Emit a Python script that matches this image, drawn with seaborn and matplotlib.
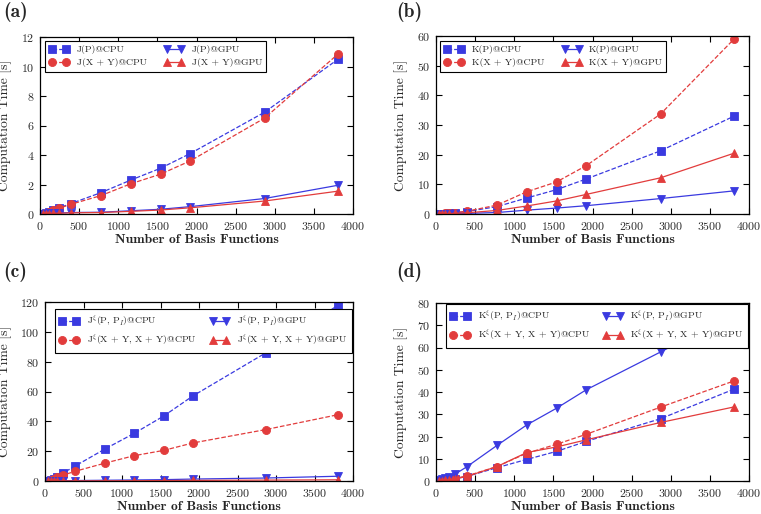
import matplotlib
matplotlib.use("Agg")
import matplotlib.pyplot as plt
import pandas as pd
import numpy as np
import seaborn as sns

# basis function counts (shared by all panels)
n_basis = [40, 80, 120, 160, 240, 390, 780, 1160, 1540, 1920, 2870, 3810]

# (a) Coulomb
a_jp_cpu = [0.03, 0.08, 0.15, 0.28, 0.40, 0.70, 1.45, 2.30, 3.10, 4.10, 6.90, 10.50]
a_jxy_cpu = [0.03, 0.07, 0.13, 0.25, 0.38, 0.65, 1.25, 2.05, 2.70, 3.60, 6.50, 10.85]
a_jp_gpu = [0.02, 0.03, 0.04, 0.05, 0.06, 0.10, 0.12, 0.22, 0.32, 0.50, 1.05, 1.95]
a_jxy_gpu = [0.01, 0.02, 0.03, 0.04, 0.05, 0.08, 0.10, 0.18, 0.27, 0.42, 0.88, 1.55]

# (b) exchange
b_kp_cpu = [0.05, 0.10, 0.15, 0.25, 0.40, 0.80, 2.50, 5.40, 8.20, 11.80, 21.30, 33.00]
b_kxy_cpu = [0.05, 0.12, 0.20, 0.30, 0.50, 0.90, 3.00, 7.50, 10.80, 16.30, 33.70, 59.00]
b_kp_gpu = [0.02, 0.04, 0.06, 0.08, 0.12, 0.20, 0.50, 1.30, 2.00, 2.80, 5.20, 7.80]
b_kxy_gpu = [0.03, 0.06, 0.10, 0.15, 0.20, 0.40, 1.20, 2.70, 4.40, 6.60, 12.20, 20.50]

# (c) Coulomb, xi
c_jp_cpu = [0.3, 0.8, 1.5, 3.0, 5.5, 10.0, 21.5, 32.0, 43.5, 57.0, 86.0, 118.0]
c_jxy_cpu = [0.2, 0.6, 1.2, 2.5, 4.0, 6.5, 12.0, 17.0, 20.5, 25.5, 34.5, 44.5]
c_jp_gpu = [0.05, 0.08, 0.1, 0.15, 0.2, 0.3, 0.5, 0.7, 0.9, 1.3, 2.0, 3.2]
c_jxy_gpu = [0.02, 0.03, 0.05, 0.07, 0.1, 0.1, 0.15, 0.2, 0.3, 0.4, 0.6, 0.8]

# (d) exchange, xi
d_kp_cpu = [0.1, 0.2, 0.4, 0.6, 1.0, 2.0, 6.0, 9.7, 13.3, 17.8, 28.0, 41.3]
d_kxy_cpu = [0.1, 0.3, 0.5, 0.8, 1.2, 2.2, 6.5, 12.5, 16.5, 21.0, 33.2, 45.0]
d_kp_gpu = [0.4, 0.8, 1.2, 1.8, 3.0, 6.3, 16.0, 25.2, 32.7, 41.0, 58.0, 75.0]
d_kxy_gpu = [0.1, 0.2, 0.4, 0.6, 1.0, 2.0, 6.5, 12.8, 15.3, 18.5, 26.3, 33.3]

blue = "#3a3ae0"
red = "#e23c3c"

sns.set_theme(style="ticks")
plt.rcParams["font.family"] = ["cmr10", "DejaVu Serif"]
plt.rcParams["mathtext.fontset"] = "cm"
plt.rcParams["axes.formatter.use_mathtext"] = True
plt.rcParams["axes.unicode_minus"] = False

fig = plt.figure(figsize=(7.61, 5.14), dpi=100)

panels = [
    dict(pos=[40 / 761, 300 / 514, 313 / 761, 177 / 514], tag="(a)", tag_xy=(3, 12),
         ylim=12, ystep=2, ylab_x=(12 - 40) / 313, leg_at=(0.016, 0.977), colsp=1.85,
         series=[("J(P)@CPU", a_jp_cpu, blue, "s", "--"),
                 ("J(X + Y)@CPU", a_jxy_cpu, red, "o", "--"),
                 ("J(P)@GPU", a_jp_gpu, blue, "v", "-"),
                 ("J(X + Y)@GPU", a_jxy_gpu, red, "^", "-")]),
    dict(pos=[436 / 761, 300 / 514, 313 / 761, 178 / 514], tag="(b)", tag_xy=(396, 12),
         ylim=60, ystep=10, ylab_x=(408 - 436) / 313, leg_at=(0.013, 0.972), colsp=1.85,
         series=[("K(P)@CPU", b_kp_cpu, blue, "s", "--"),
                 ("K(X + Y)@CPU", b_kxy_cpu, red, "o", "--"),
                 ("K(P)@GPU", b_kp_gpu, blue, "v", "-"),
                 ("K(X + Y)@GPU", b_kxy_gpu, red, "^", "-")]),
    dict(pos=[45 / 761, 33 / 514, 308 / 761, 179 / 514], tag="(c)", tag_xy=(3, 272),
         ylim=120, ystep=20, ylab_x=(12 - 45) / 308, leg_at=(0.0325, 0.961), colsp=1.35,
         series=[(r"J$^\xi$(P, P$_I$)@CPU", c_jp_cpu, blue, "s", "--"),
                 (r"J$^\xi$(X + Y, X + Y)@CPU", c_jxy_cpu, red, "o", "--"),
                 (r"J$^\xi$(P, P$_I$)@GPU", c_jp_gpu, blue, "v", "-"),
                 (r"J$^\xi$(X + Y, X + Y)@GPU", c_jxy_gpu, red, "^", "-")]),
    dict(pos=[436 / 761, 33 / 514, 313 / 761, 178 / 514], tag="(d)", tag_xy=(396, 272),
         ylim=80, ystep=10, ylab_x=(408 - 436) / 313, leg_at=(0.032, 0.994), colsp=1.35,
         series=[(r"K$^\xi$(P, P$_I$)@CPU", d_kp_cpu, blue, "s", "--"),
                 (r"K$^\xi$(X + Y, X + Y)@CPU", d_kxy_cpu, red, "o", "--"),
                 (r"K$^\xi$(P, P$_I$)@GPU", d_kp_gpu, blue, "v", "-"),
                 (r"K$^\xi$(X + Y, X + Y)@GPU", d_kxy_gpu, red, "^", "-")]),
]

for p in panels:
    ax = fig.add_axes(p["pos"])
    for label, vals, color, marker, ls in p["series"]:
        df = pd.DataFrame({"n": n_basis, "t": vals})
        sns.lineplot(data=df, x="n", y="t", ax=ax, color=color, marker=marker,
                     linestyle=ls, linewidth=0.9, markersize=5.8,
                     markeredgecolor=color, markeredgewidth=0.6,
                     dashes=False if ls == "-" else (4, 2.5),
                     label=label)
    ax.set_xlim(0, 4000)
    ax.set_ylim(0, p["ylim"])
    ax.set_xticks(np.arange(0, 4001, 500))
    ax.set_yticks(np.arange(0, p["ylim"] + 0.1, p["ystep"]))
    ax.tick_params(direction="in", top=True, right=True, length=4, width=0.8,
                   labelsize=8.6, colors="black", labelcolor="#2a2a2a", pad=4)
    for s in ax.spines.values():
        s.set_linewidth(0.9)
        s.set_color("black")
    ax.set_xlabel("Number of Basis Functions", family="cmb10", fontsize=9.8, labelpad=2)
    ax.set_ylabel("Computation Time [s]", fontsize=9.8)
    ax.yaxis.set_label_coords(p["ylab_x"], 0.5)
    leg = ax.legend(loc="upper left", bbox_to_anchor=p["leg_at"],
                    ncol=2, numpoints=2, handlelength=2.0,
                    fontsize=7.0, frameon=True, fancybox=False, framealpha=1,
                    edgecolor="black", columnspacing=p["colsp"], borderpad=0.45,
                    labelspacing=0.4, handletextpad=0.8, borderaxespad=0)
    leg.get_frame().set_linewidth(0.8)
    fig.text(p["tag_xy"][0] / 761, 1 - p["tag_xy"][1] / 514, p["tag"], family="cmb10",
             fontsize=14, va="center", ha="left")

fig.savefig("out.png", dpi=100)
